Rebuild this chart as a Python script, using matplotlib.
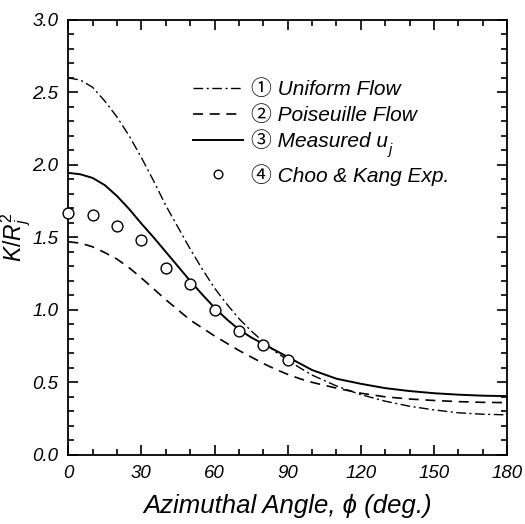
import matplotlib
matplotlib.use('Agg')
import matplotlib.pyplot as plt
from matplotlib.ticker import MultipleLocator, FormatStrFormatter

plt.rcParams['font.family'] = ['Liberation Sans', 'Noto Sans CJK JP', 'DejaVu Sans']
plt.rcParams['mathtext.fontset'] = 'custom'
plt.rcParams['mathtext.rm'] = 'Liberation Sans'
plt.rcParams['mathtext.it'] = 'Liberation Sans:italic'

# curves
angle = [0, 5, 10, 15, 20, 25, 30, 35, 40, 45, 50, 55, 60, 65, 70, 75, 80, 85, 90, 95,
         100, 110, 120, 130, 140, 150, 160, 170, 180]
uniform = [2.60, 2.585, 2.535, 2.44, 2.33, 2.20, 2.05, 1.89, 1.72, 1.57, 1.42, 1.28, 1.15,
           1.04, 0.94, 0.855, 0.78, 0.71, 0.655, 0.60, 0.55, 0.475, 0.415, 0.37, 0.335,
           0.31, 0.29, 0.28, 0.276]
poiseuille = [1.47, 1.46, 1.435, 1.395, 1.35, 1.29, 1.22, 1.145, 1.07, 1.0, 0.93, 0.875,
              0.82, 0.77, 0.72, 0.675, 0.63, 0.59, 0.555, 0.525, 0.50, 0.46, 0.425, 0.40,
              0.385, 0.375, 0.367, 0.362, 0.36]
measured = [1.945, 1.935, 1.91, 1.86, 1.785, 1.695, 1.595, 1.50, 1.40, 1.30, 1.20, 1.105,
            1.015, 0.935, 0.865, 0.81, 0.765, 0.72, 0.675, 0.63, 0.585, 0.525, 0.49, 0.46,
            0.44, 0.425, 0.415, 0.408, 0.405]

# experiment (Choo & Kang)
exp_angle = [0, 10, 20, 30, 40, 50, 60, 70, 80, 90]
exp_k = [1.667, 1.655, 1.575, 1.483, 1.288, 1.18, 1.0, 0.856, 0.756, 0.657]

labels = ['\u2460 Uniform Flow', '\u2461 Poiseuille Flow', '\u2462 Measured u',
          '\u2463 Choo & Kang Exp.']

fig = plt.figure(figsize=(5.25, 5.24), dpi=100)
ax = fig.add_axes([0.13, 0.132, 0.836, 0.830])

l1, = ax.plot(angle, uniform, color='black', lw=1.0, dashes=[7, 2.5, 1.5, 2.5])
l2, = ax.plot(angle, poiseuille, color='black', lw=1.2, dashes=[6, 4])
l3, = ax.plot(angle, measured, color='black', lw=1.4)
l4, = ax.plot(exp_angle, exp_k, 'o', mfc='white', mec='black', mew=1.0, ms=7.8,
              clip_on=False, zorder=5)

ax.set_xlim(0, 180)
ax.set_ylim(0, 3.0)
ax.xaxis.set_major_locator(MultipleLocator(30))
ax.xaxis.set_minor_locator(MultipleLocator(10))
ax.yaxis.set_major_locator(MultipleLocator(0.5))
ax.yaxis.set_minor_locator(MultipleLocator(0.1))
ax.yaxis.set_major_formatter(FormatStrFormatter('%.1f'))
ax.tick_params(which='both', direction='in', top=True, right=True, width=1.2)
ax.tick_params(which='major', length=7, labelsize=13.5, pad=7)
ax.tick_params(which='minor', length=4)
for lab in ax.get_xticklabels() + ax.get_yticklabels():
    lab.set_fontstyle('italic')
for s in ax.spines.values():
    s.set_linewidth(1.3)

ax.set_xlabel('Azimuthal Angle, \u03d5 (deg.)', fontsize=18.5, fontstyle='italic', labelpad=9)
ax.set_ylabel(r'$K/R_j^2$', fontsize=16.5)
ax.yaxis.set_label_coords(-0.081, 0.5)

leg_kw = dict(loc='upper left', frameon=False, fontsize=15, handlelength=2.4,
              handletextpad=0.35, borderaxespad=0, borderpad=0)
leg1 = ax.legend([l1, l2, l3], labels[:3], bbox_to_anchor=(0.285, 0.864),
                 labelspacing=0.31, **leg_kw)
ax.add_artist(leg1)
leg2 = ax.legend([l4], labels[3:], bbox_to_anchor=(0.285, 0.669), numpoints=1,
                 markerscale=0.8, **leg_kw)
for t in leg1.get_texts() + leg2.get_texts():
    t.set_fontstyle('italic')

# subscript j on "Measured u"
fig.canvas.draw()
bb = leg1.get_texts()[2].get_window_extent()
fx = bb.x1 / fig.bbox.width
fy = bb.y0 / fig.bbox.height
fig.text(fx + 0.002, fy - 0.006, 'j', fontsize=10.5, fontstyle='italic')

fig.savefig('out.png', dpi=100)
